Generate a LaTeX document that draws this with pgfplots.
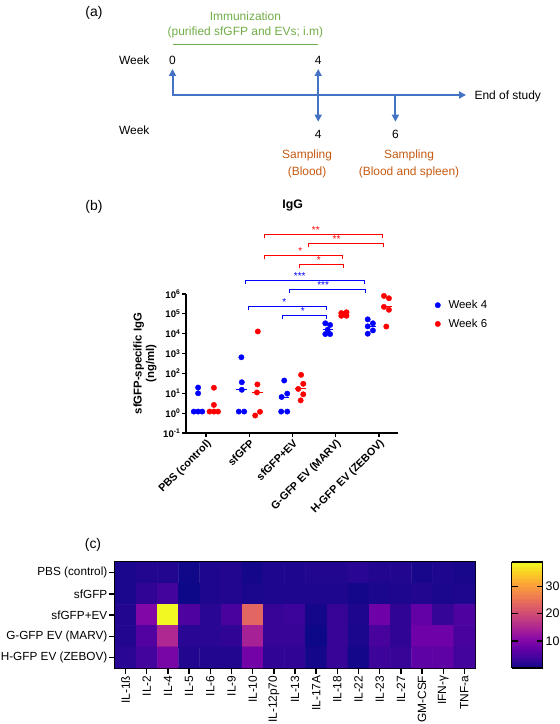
\documentclass[border=0pt]{standalone}
\usepackage{fontspec}
\setmainfont{Liberation Sans}
\usepackage{pgfplots}
\pgfplotsset{compat=1.18}
\usetikzlibrary{arrows.meta}
\definecolor{tlblue}{RGB}{68,114,196}
\definecolor{tlgreen}{RGB}{112,173,71}
\definecolor{tlorange}{RGB}{197,90,17}
\definecolor{pblue}{RGB}{0,0,255}
\definecolor{pred}{RGB}{255,0,0}
\pgfplotsset{colormap={plasma}{rgb255=(13,8,135) rgb255=(65,4,157) rgb255=(106,0,168) rgb255=(143,13,164) rgb255=(177,42,144) rgb255=(204,71,120) rgb255=(225,100,98) rgb255=(242,132,75) rgb255=(252,166,54) rgb255=(252,206,37) rgb255=(240,249,33)}}
\newcommand{\fs}[1]{\fontsize{#1}{#1}\selectfont}
\begin{document}
\begin{tikzpicture}[x=1bp,y=1bp]
\path[use as bounding box] (0,0) rectangle (560,-724);
% ---------------- panel (a)
\node[font=\fs{14}] at (94,-13.3) {(a)};
\node[tlgreen, font=\fs{12}] at (245.4,-16) {Immunization};
\node[tlgreen, font=\fs{12}] at (245.4,-32.3) {(purified sfGFP and EVs; i.m)};
\draw[tlgreen, line width=1.5bp] (172.5,-44.3) -- (318.2,-44.3);
\node[font=\fs{12}] at (134.3,-60) {Week};
\node[font=\fs{12}] at (172.5,-60) {0};
\node[font=\fs{12}] at (318.2,-60) {4};
\draw[tlblue, line width=2bp, {Triangle[length=7bp,width=7bp]}-{Triangle[length=7bp,width=7bp]}] (172.5,-69) -- (172.5,-95) -- (466,-95);
\draw[tlblue, line width=2bp, {Triangle[length=7bp,width=7bp]}-{Triangle[length=7bp,width=7bp]}] (318.2,-69) -- (318.2,-121.7);
\draw[tlblue, line width=2bp, -{Triangle[length=7bp,width=7bp]}] (395.4,-95) -- (395.4,-121.7);
\node[font=\fs{12}, anchor=west] at (471,-96.7) {End of study};
\node[font=\fs{12}] at (134.3,-130.7) {Week};
\node[font=\fs{12}] at (318.2,-134.3) {4};
\node[font=\fs{12}] at (395.4,-134.3) {6};
\node[tlorange, font=\fs{12}] at (307.1,-155.7) {Sampling};
\node[tlorange, font=\fs{12}] at (307.1,-172) {(Blood)};
\node[tlorange, font=\fs{12}] at (409,-155.7) {Sampling};
\node[tlorange, font=\fs{12}] at (409,-172) {(Blood and spleen)};
% ---------------- panel (b)
\node[font=\fs{14}] at (94,-206.7) {(b)};
\node[font=\bfseries\fs{12.4}] at (292.7,-205) {IgG};
\node[font=\bfseries\fontsize{11.4}{12.5}\selectfont, rotate=90, align=center] at (145,-363.5) {sfGFP-specific IgG\\(ng/ml)};
\begin{axis}[
  at={(186bp,-433bp)}, anchor=south west, scale only axis,
  width=212bp, height=139bp,
  xmin=-0.46, xmax=4.44, ymode=log, ymin=0.1, ymax=1000000,
  axis x line*=bottom, axis y line*=left,
  axis line style={line width=1.2bp, -},
  tick style={line width=1.2bp, black},
  tick align=outside, major tick length=4bp,
  yminorticks=false, xminorticks=false,
  xtick={0,1,2,3,4},
  xticklabels={PBS (control), sfGFP, sfGFP+EV, G-GFP EV (MARV), H-GFP EV (ZEBOV)},
  xticklabel style={rotate=45, anchor=north east, font=\bfseries\fs{10.8}, inner sep=1bp},
  ytick={0.1,1,10,100,1000,10000,100000,1000000},
  yticklabels={10\textsuperscript{-1},10\textsuperscript{0},10\textsuperscript{1},10\textsuperscript{2},10\textsuperscript{3},10\textsuperscript{4},10\textsuperscript{5},10\textsuperscript{6}},
  yticklabel style={font=\bfseries\fs{9.6}, inner sep=1.5bp},
  clip=false,
  legend style={draw=none, fill=none, at={(rel axis cs:1.16,0.985)}, anchor=north west, font=\fs{11.5}, row sep=5bp, column sep=6bp},
  legend cell align=left,
  legend image code/.code={\draw[#1] plot coordinates {(0bp,0bp)};},
]
\addplot[only marks, mark=*, mark size=2.7bp, color=pblue, mark options={fill=pblue, draw=pblue}] table[row sep=\\] {
x y\\
-0.18 19.5\\ -0.18 10\\ -0.28 1.2\\ -0.18 1.2\\ -0.085 1.2\\
0.82 650\\ 0.83 36\\ 0.83 15\\ 0.76 1.2\\ 0.885 1.2\\
1.81 44\\ 1.88 9.6\\ 1.75 6.5\\ 1.74 1.2\\ 1.88 1.2\\
2.76 33500\\ 2.87 27600\\ 2.815 16000\\ 2.76 9600\\ 2.87 9600\\
3.74 53000\\ 3.86 33500\\ 3.74 23500\\ 3.86 14700\\ 3.74 10000\\
};
\addlegendentry{Week 4}
\addplot[only marks, mark=*, mark size=2.7bp, color=pred, mark options={fill=pred, draw=pred}] table[row sep=\\] {
x y\\
0.185 19\\ 0.185 2.6\\ 0.085 1.2\\ 0.185 1.2\\ 0.28 1.2\\
1.2 13000\\ 1.19 28\\ 1.18 11\\ 1.14 0.76\\ 1.25 1.17\\
2.2 85\\ 2.25 30\\ 2.135 16.6\\ 2.25 8.9\\ 2.19 4.4\\
3.13 110000\\ 3.25 120000\\ 3.19 95000\\ 3.13 80000\\ 3.25 80000\\
4.115 800000\\ 4.23 610000\\ 4.115 225000\\ 4.23 160000\\ 4.17 23000\\
};
\addlegendentry{Week 6}
% medians
\addplot[pblue, line width=1bp, forget plot] coordinates {(-0.30,1.2) (-0.06,1.2)};
\addplot[pblue, line width=1bp, forget plot] coordinates {(0.70,15) (0.94,15)};
\addplot[pblue, line width=1bp, forget plot] coordinates {(1.69,6.5) (1.93,6.5)};
\addplot[pblue, line width=1bp, forget plot] coordinates {(2.70,16000) (2.93,16000)};
\addplot[pblue, line width=1bp, forget plot] coordinates {(3.68,23500) (3.92,23500)};
\addplot[pred, line width=1bp, forget plot] coordinates {(0.07,1.2) (0.30,1.2)};
\addplot[pred, line width=1bp, forget plot] coordinates {(1.07,11) (1.31,11)};
\addplot[pred, line width=1bp, forget plot] coordinates {(2.07,16.6) (2.31,16.6)};
\addplot[pred, line width=1bp, forget plot] coordinates {(3.07,95000) (3.31,95000)};
\addplot[pred, line width=1bp, forget plot] coordinates {(4.05,225000) (4.29,225000)};
\end{axis}
% significance brackets (log10 units)
\begin{axis}[
  at={(186bp,-433bp)}, anchor=south west, scale only axis,
  width=212bp, height=139bp,
  xmin=-0.46, xmax=4.44, ymin=-1, ymax=6,
  hide axis, clip=false,
]
\addplot[pred, line width=1bp] coordinates {(1.35,8.80) (1.35,9.00) (4.09,9.00) (4.09,8.80)};
\addplot[pred, line width=1bp] coordinates {(2.36,8.35) (2.36,8.55) (4.10,8.55) (4.10,8.35)};
\addplot[pred, line width=1bp] coordinates {(1.36,7.75) (1.36,7.95) (3.16,7.95) (3.16,7.75)};
\addplot[pred, line width=1bp] coordinates {(2.17,7.29) (2.17,7.49) (3.17,7.49) (3.17,7.29)};
\addplot[pblue, line width=1bp] coordinates {(0.92,6.50) (0.92,6.70) (3.66,6.70) (3.66,6.50)};
\addplot[pblue, line width=1bp] coordinates {(1.94,6.05) (1.94,6.25) (3.68,6.25) (3.68,6.05)};
\addplot[pblue, line width=1bp] coordinates {(0.99,5.19) (0.99,5.39) (2.79,5.39) (2.79,5.19)};
\addplot[pblue, line width=1bp] coordinates {(1.78,4.74) (1.78,4.94) (2.79,4.94) (2.79,4.74)};
\node[pred, font=\fs{10}, anchor=base, yshift=1bp] at (axis cs:2.54,9.00) {**};
\node[pred, font=\fs{10}, anchor=base, yshift=1bp] at (axis cs:3.02,8.55) {**};
\node[pred, font=\fs{10}, anchor=base, yshift=1bp] at (axis cs:2.18,7.95) {*};
\node[pred, font=\fs{10}, anchor=base, yshift=1bp] at (axis cs:2.61,7.49) {*};
\node[pblue, font=\fs{10}, anchor=base, yshift=1bp] at (axis cs:2.17,6.70) {***};
\node[pblue, font=\fs{10}, anchor=base, yshift=1bp] at (axis cs:2.71,6.25) {***};
\node[pblue, font=\fs{10}, anchor=base, yshift=1bp] at (axis cs:1.81,5.39) {*};
\node[pblue, font=\fs{10}, anchor=base, yshift=1bp] at (axis cs:2.24,4.94) {*};
\end{axis}
% ---------------- panel (c)
\node[font=\fs{14}] at (93,-545) {(c)};
\begin{axis}[
  at={(115bp,-668bp)}, anchor=south west, scale only axis,
  width=360bp, height=106bp,
  xmin=-0.5, xmax=16.5, ymin=-0.5, ymax=4.5, y dir=reverse,
  enlargelimits=false,
  axis line style={line width=1.6bp},
  tick style={line width=1.4bp, black},
  tick align=outside, major tick length=6bp,
  xtick pos=bottom, ytick pos=left,
  xtick={0,...,16},
  xticklabels={IL-1ß, IL-2, IL-4, IL-5, IL-6, IL-9, IL-10, IL-12p70, IL-13, IL-17A, IL-18, IL-22, IL-23, IL-27, GM-CSF, IFN-γ, TNF-a},
  xticklabel style={rotate=90, anchor=east, font=\fs{12}, inner sep=1.5bp},
  ytick={0,...,4},
  yticklabels={PBS (control), sfGFP, sfGFP+EV, G-GFP EV (MARV), H-GFP EV (ZEBOV)},
  yticklabel style={font=\fs{11.8}, inner sep=1.5bp},
  colormap name=plasma, point meta min=0, point meta max=39,
  colorbar sampled,
  colorbar style={
    samples=80,
    at={(parent axis.north east)}, anchor=north west, xshift=28bp,
    scale only axis, width=31bp, height=106bp,
    ymin=0, ymax=39, enlargelimits=false,
    /pgf/number format/assume math mode=true,
    ytick={10,20,30}, yticklabels={10,20,30}, ytick pos=both, yticklabel pos=right,
    tick align=inside, major tick length=6bp,
    tick style={line width=1.4bp, black},
    axis line style={line width=1.6bp},
    yticklabel style={font=\fs{12.5}, inner sep=3bp},
  },
]
\addplot[matrix plot*, mesh/cols=17, point meta=explicit] table[meta=c, row sep=\\] {
x y c\\
0 0 1.0\\ 1 0 1.55\\ 2 0 1.55\\ 3 0 0.2\\ 4 0 1.25\\ 5 0 1.55\\ 6 0 0.5\\ 7 0 1.25\\ 8 0 1.25\\ 9 0 1.55\\ 10 0 1.55\\ 11 0 2.1\\ 12 0 1.55\\ 13 0 1.55\\ 14 0 0.8\\ 15 0 1.25\\ 16 0 0.8\\
0 1 1.0\\ 1 1 2.6\\ 2 1 4.05\\ 3 1 0.0\\ 4 1 1.25\\ 5 1 1.55\\ 6 1 1.0\\ 7 1 1.25\\ 8 1 1.25\\ 9 1 1.25\\ 10 1 1.25\\ 11 1 0.5\\ 12 1 1.0\\ 13 1 1.25\\ 14 1 1.55\\ 15 1 1.0\\ 16 1 1.25\\
0 2 1.55\\ 1 2 10.2\\ 2 2 39.0\\ 3 2 5.1\\ 4 2 2.1\\ 5 2 4.6\\ 6 2 23.6\\ 7 2 3.1\\ 8 2 3.55\\ 9 2 0.5\\ 10 2 3.1\\ 11 2 1.25\\ 12 2 8.2\\ 13 2 2.6\\ 14 2 7.2\\ 15 2 3.0\\ 16 2 5.1\\
0 3 1.55\\ 1 3 5.6\\ 2 3 15.4\\ 3 3 2.1\\ 4 3 2.1\\ 5 3 2.6\\ 6 3 14.4\\ 7 3 3.1\\ 8 3 3.1\\ 9 3 0.0\\ 10 3 3.1\\ 11 3 1.0\\ 12 3 4.6\\ 13 3 2.6\\ 14 3 8.2\\ 15 3 8.2\\ 16 3 4.6\\
0 4 2.1\\ 1 4 4.05\\ 2 4 9.3\\ 3 4 1.55\\ 4 4 1.55\\ 5 4 1.55\\ 6 4 8.75\\ 7 4 2.6\\ 8 4 2.6\\ 9 4 0.5\\ 10 4 3.1\\ 11 4 0.5\\ 12 4 3.55\\ 13 4 3.1\\ 14 4 6.7\\ 15 4 6.7\\ 16 4 4.05\\
};
\end{axis}
\end{tikzpicture}
\end{document}
